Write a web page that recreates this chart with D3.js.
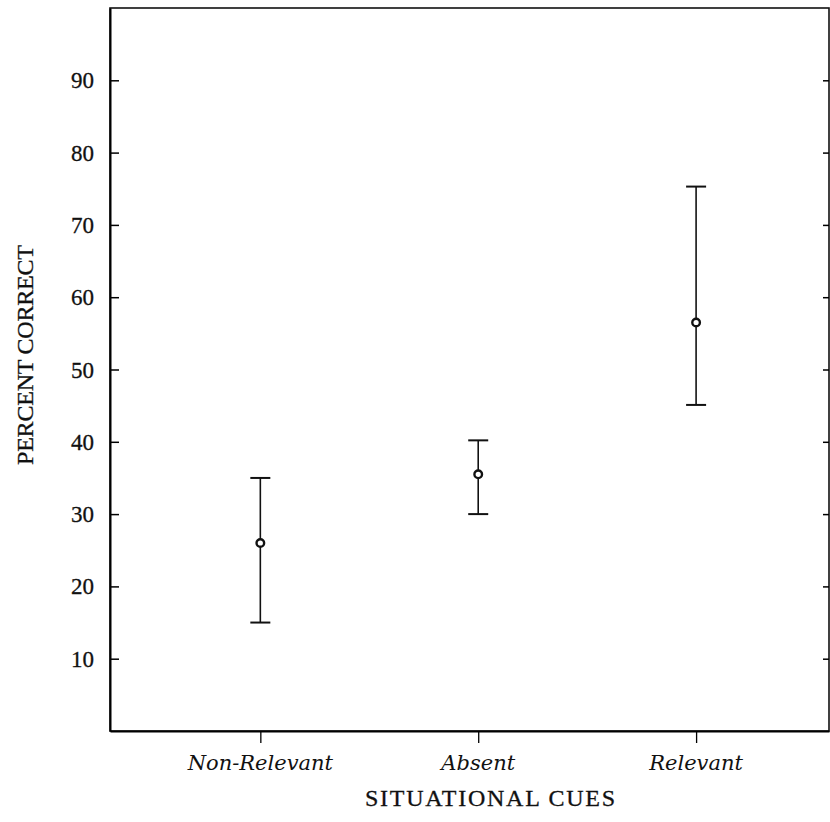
<!DOCTYPE html>
<html>
<head>
<meta charset="utf-8">
<script src="https://cdn.jsdelivr.net/npm/d3@7"></script>
<style>
    body { margin: 0; background: #fff; }
    .tick-num { font-family: "Liberation Serif", serif; font-size: 23px; fill: #111; stroke: #111; stroke-width: 0.3px; }
    .cat-label { font-family: "DejaVu Serif", serif; font-style: italic; font-size: 21px; fill: #111; }
    .axis-title { font-family: "Liberation Serif", serif; font-size: 24px; fill: #111; stroke: #111; stroke-width: 0.3px; }
</style>
</head>
<body>
<div id="chart"></div>
<script>
// situational cues conditions and percent correct (mean, upper / lower bar)
const categories = ["Non-Relevant", "Absent", "Relevant"];
const means = [26, 35.5, 56.5];
const upper = [35, 40.2, 75.3];
const lower = [15, 30, 45.1];
const yTicks = [10, 20, 30, 40, 50, 60, 70, 80, 90];

const width = 830,
    height = 822,
    margin = { left: 110, top: 8, right: 1, bottom: 91 };

const chartWidth = width - margin.left - margin.right;
const chartHeight = height - margin.top - margin.bottom;

const svg = d3.select("#chart").append("svg")
    .attr("width", width)
    .attr("height", height);

const g = svg.append("g")
    .attr("transform", "translate(" + margin.left + "," + margin.top + ")");

const xScale = d3.scaleLinear().domain([-0.69, 2.61]).range([0, chartWidth]);
const yScale = d3.scaleLinear().domain([0, 100]).range([chartHeight, 0]);

// frame
g.append("rect")
    .attr("x", 0).attr("y", 0)
    .attr("width", chartWidth).attr("height", chartHeight)
    .attr("fill", "none")
    .attr("stroke", "#111")
    .attr("stroke-width", 1.6);

// left axis, ticks pointing inward
const yAxis = d3.axisRight(yScale).tickValues(yTicks).tickSize(9).tickSizeOuter(0).tickFormat("");
g.append("g").attr("class", "axis y").call(yAxis)
    .call(s => s.select(".domain").attr("stroke-width", 2));

// right side ticks, also inward
g.append("g").attr("class", "axis y")
    .attr("transform", "translate(" + chartWidth + ",0)")
    .call(d3.axisLeft(yScale).tickValues(yTicks).tickSize(6).tickSizeOuter(0).tickFormat(""))
    .call(s => s.select(".domain").remove());

g.selectAll(".axis.y line").attr("stroke-width", 1.5);

// y tick numbers
g.selectAll(".tick-num").data(yTicks).enter().append("text")
    .attr("class", "tick-num")
    .attr("x", -16)
    .attr("y", d => yScale(d))
    .attr("dy", "0.35em")
    .attr("text-anchor", "end")
    .text(d => d);

// bottom axis with outward ticks
const xAxis = d3.axisBottom(xScale).tickValues([0, 1, 2]).tickSize(12).tickSizeOuter(0).tickFormat("");
g.append("g").attr("class", "axis x")
    .attr("transform", "translate(0," + chartHeight + ")")
    .call(xAxis)
    .call(s => s.select(".domain").attr("stroke-width", 2))
    .call(s => s.selectAll("line").attr("stroke-width", 1.3));

g.selectAll(".cat-label").data(categories).enter().append("text")
    .attr("class", "cat-label")
    .attr("x", (d, i) => xScale(i))
    .attr("y", chartHeight + 39)
    .attr("text-anchor", "middle")
    .text(d => d);

// error bars
const bars = g.selectAll(".bar").data(categories).enter().append("g").attr("class", "bar");
bars.append("line")
    .attr("x1", (d, i) => xScale(i)).attr("x2", (d, i) => xScale(i))
    .attr("y1", (d, i) => yScale(upper[i])).attr("y2", (d, i) => yScale(lower[i]))
    .attr("stroke", "#111").attr("stroke-width", 1.6);
bars.append("line")
    .attr("x1", (d, i) => xScale(i) - 10).attr("x2", (d, i) => xScale(i) + 10)
    .attr("y1", (d, i) => yScale(upper[i])).attr("y2", (d, i) => yScale(upper[i]))
    .attr("stroke", "#111").attr("stroke-width", 2);
bars.append("line")
    .attr("x1", (d, i) => xScale(i) - 10).attr("x2", (d, i) => xScale(i) + 10)
    .attr("y1", (d, i) => yScale(lower[i])).attr("y2", (d, i) => yScale(lower[i]))
    .attr("stroke", "#111").attr("stroke-width", 2);
bars.append("circle")
    .attr("cx", (d, i) => xScale(i))
    .attr("cy", (d, i) => yScale(means[i]))
    .attr("r", 3.8)
    .attr("fill", "#fff")
    .attr("stroke", "#111")
    .attr("stroke-width", 2.4);

// axis titles
svg.append("text")
    .attr("class", "axis-title")
    .attr("transform", "translate(33,355) rotate(-90)")
    .attr("text-anchor", "middle")
    .attr("textLength", 220)
    .attr("lengthAdjust", "spacing")
    .text("PERCENT CORRECT");

svg.append("text")
    .attr("class", "axis-title")
    .attr("x", 490)
    .attr("y", 806)
    .attr("text-anchor", "middle")
    .attr("textLength", 250)
    .attr("lengthAdjust", "spacing")
    .text("SITUATIONAL CUES");
</script>
</body>
</html>
